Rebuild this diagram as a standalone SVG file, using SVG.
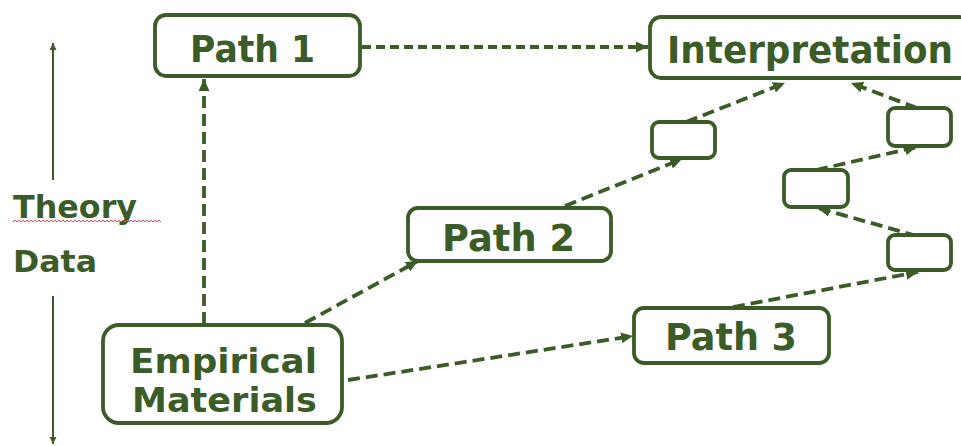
<svg xmlns="http://www.w3.org/2000/svg" width="961" height="446" viewBox="0 0 961 446">
<defs>
<style>
.box{fill:#ffffff;stroke:#3c5c27;stroke-width:3.8}
.lbl{font-family:"DejaVu Sans","Liberation Sans",sans-serif;font-weight:bold;fill:#3c5c27}
.con{fill:none;stroke:#3c5c27;stroke-width:3.8;stroke-dasharray:12 6}
.axis{fill:none;stroke:#3c5c27;stroke-width:2}
</style>
<marker id="ah" markerUnits="userSpaceOnUse" markerWidth="14" markerHeight="12" refX="12" refY="5.5" orient="auto">
<path d="M0,0 L12,5.5 L0,11 z" fill="#3c5c27"/>
</marker>
<marker id="ahs" markerUnits="userSpaceOnUse" markerWidth="8" markerHeight="8" refX="7" refY="3.5" orient="auto">
<path d="M0,0 L7,3.5 L0,7 z" fill="#3c5c27"/>
</marker>
</defs>
<rect width="961" height="446" fill="#ffffff"/>

<g id="axis">
<line class="axis" x1="53" y1="180" x2="53" y2="43" marker-end="url(#ahs)"/>
<line class="axis" x1="53" y1="296" x2="53" y2="444" marker-end="url(#ahs)"/>
<text class="lbl" x="13" y="218" font-size="32" textLength="124" lengthAdjust="spacingAndGlyphs">Theory</text>
<path d="M13,222 l2,-2 l2,2 l2,-2 l2,2 l2,-2 l2,2 l2,-2 l2,2 l2,-2 l2,2 l2,-2 l2,2 l2,-2 l2,2 l2,-2 l2,2 l2,-2 l2,2 l2,-2 l2,2 l2,-2 l2,2 l2,-2 l2,2 l2,-2 l2,2 l2,-2 l2,2 l2,-2 l2,2 l2,-2 l2,2 l2,-2 l2,2 l2,-2 l2,2 l2,-2 l2,2 l2,-2 l2,2 l2,-2 l2,2 l2,-2 l2,2 l2,-2 l2,2 l2,-2 l2,2 l2,-2 l2,2 l2,-2 l2,2 l2,-2 l2,2 l2,-2 l2,2 l2,-2 l2,2 l2,-2 l2,2 l2,-2 l2,2 l2,-2 l2,2 l2,-2 l2,2 l2,-2 l2,2 l2,-2 l2,2 l2,-2 l2,2 l2,-2 l2,2" fill="none" stroke="#e8505a" stroke-width="1"/>
<text class="lbl" x="13" y="272" font-size="31" textLength="84" lengthAdjust="spacingAndGlyphs">Data</text>
</g>

<g id="connectors">
<line class="con" x1="362" y1="47" x2="648" y2="47" marker-end="url(#ah)" style="stroke-dasharray:9 5"/>
<line class="con" x1="204" y1="324" x2="204" y2="79" marker-end="url(#ah)"/>
<line class="con" x1="305" y1="323" x2="418" y2="261" marker-end="url(#ah)"/>
<line class="con" x1="348" y1="380" x2="633" y2="336" marker-end="url(#ah)"/>
<line class="con" x1="565" y1="206" x2="682" y2="159" marker-end="url(#ah)"/>
<line class="con" x1="686" y1="122" x2="785" y2="83" marker-end="url(#ah)"/>
<line class="con" x1="917" y1="108" x2="851" y2="83" marker-end="url(#ah)"/>
<line class="con" x1="816" y1="170" x2="917" y2="147" marker-end="url(#ah)"/>
<line class="con" x1="917" y1="236" x2="818" y2="208" marker-end="url(#ah)"/>
<line class="con" x1="733" y1="307" x2="918" y2="272" marker-end="url(#ah)"/>
</g>

<g id="path1">
<rect class="box" x="155" y="15" width="205" height="61" rx="11"/>
<text class="lbl" x="190" y="62" font-size="38" textLength="125" lengthAdjust="spacingAndGlyphs">Path 1</text>
</g>

<g id="interpretation">
<rect class="box" x="650" y="17" width="320" height="61" rx="11"/>
<text class="lbl" x="667" y="63" font-size="37" textLength="286" lengthAdjust="spacingAndGlyphs">Interpretation</text>
</g>

<g id="path2">
<rect class="box" x="408" y="208" width="203" height="53" rx="10"/>
<text class="lbl" x="442" y="251" font-size="37" textLength="133" lengthAdjust="spacingAndGlyphs">Path 2</text>
</g>

<g id="path3">
<rect class="box" x="634" y="308" width="195" height="55" rx="10"/>
<text class="lbl" x="665" y="350" font-size="37" textLength="132" lengthAdjust="spacingAndGlyphs">Path 3</text>
</g>

<g id="empirical">
<rect class="box" x="103" y="325" width="239" height="98" rx="16"/>
<text class="lbl" x="130" y="373" font-size="34" textLength="187" lengthAdjust="spacingAndGlyphs">Empirical</text>
<text class="lbl" x="132" y="412" font-size="34" textLength="185" lengthAdjust="spacingAndGlyphs">Materials</text>
</g>

<g id="boxA">
<rect class="box" x="652" y="122" width="63" height="36" rx="7"/>
</g>
<g id="boxB">
<rect class="box" x="888" y="108" width="63" height="38" rx="7"/>
</g>
<g id="boxC">
<rect class="box" x="784" y="170" width="64" height="37" rx="7"/>
</g>
<g id="boxD">
<rect class="box" x="888" y="235" width="63" height="35" rx="7"/>
</g>
</svg>
